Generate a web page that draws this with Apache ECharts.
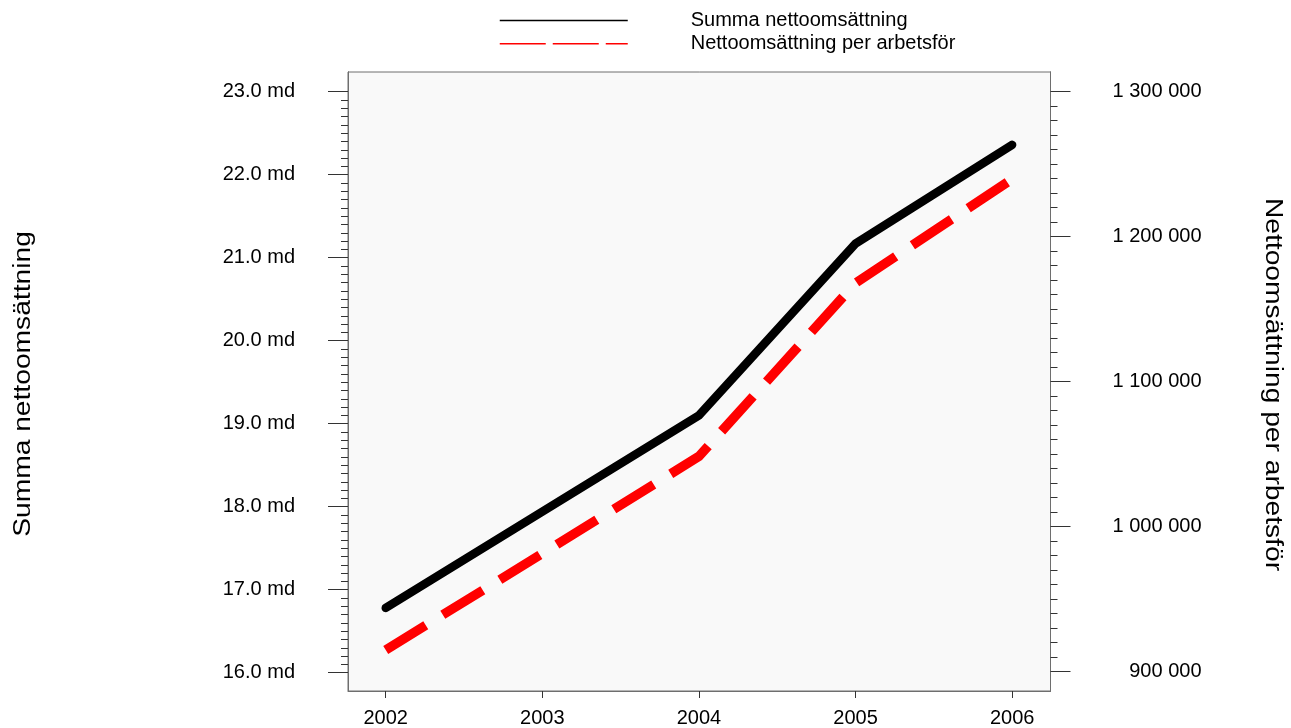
<!DOCTYPE html>
<html>
<head>
<meta charset="utf-8">
<script src="https://cdn.jsdelivr.net/npm/echarts@6/dist/echarts.min.js"></script>
<style>
html,body{margin:0;padding:0;background:#fff;}
#chart{width:1291px;height:728px;}
</style>
</head>
<body>
<div id="chart"></div>
<script>
// ---- data ----
var years = [2002, 2003, 2004, 2005, 2006];
var summaNetto = [16.78, 17.94, 19.10, 21.17, 22.36];          // left axis (md)
var nettoPerArbetsfor = [915000, 981500, 1048500, 1168000, 1239800]; // right axis
var leftTicks = [16, 17, 18, 19, 20, 21, 22, 23];
var rightTicks = [900000, 1000000, 1100000, 1200000, 1300000];
var seriesNames = ['Summa nettoomsättning', 'Nettoomsättning per arbetsför'];
var leftTitle = 'Summa nettoomsättning';
var rightTitle = 'Nettoomsättning per arbetsför';

function minorTicks(major, parts) {
  var out = [];
  for (var i = 0; i < major.length - 1; i++) {
    var step = (major[i + 1] - major[i]) / parts;
    for (var k = 1; k < parts; k++) out.push(major[i] + step * k);
  }
  return out;
}
function spaced(v) {
  return String(Math.round(v)).replace(/\B(?=(\d{3})+(?!\d))/g, ' ');
}

var FONT = "'Liberation Sans', Arial, sans-serif";
var FRAME = '#6e6e6e';
var TICK = '#333';

var chart = echarts.init(document.getElementById('chart'), null, {renderer: 'canvas'});

function yAx(pos, min, max, ticks, len, labels, fmt, margin, align) {
  return {
    type: 'value', position: pos, min: min, max: max, offset: 0,
    axisLine: {show: true, lineStyle: {color: FRAME, width: 1}},
    axisTick: {show: true, customValues: ticks, length: len, lineStyle: {color: TICK, width: 1}},
    axisLabel: labels ? {show: true, customValues: ticks, formatter: fmt, margin: margin,
      fontSize: 20, color: '#000', fontFamily: FONT, align: align, padding: [3, 0, 0, 0]} : {show: false},
    splitLine: {show: false}, minorTick: {show: false}
  };
}

var option = {
  animation: false,
  backgroundColor: '#ffffff',
  textStyle: {fontFamily: FONT},
  grid: {left: 348, right: 240.5, top: 72, bottom: 37, show: true,
         backgroundColor: '#f9f9f9', borderColor: FRAME, borderWidth: 1, containLabel: false},
  legend: {
    orient: 'vertical', left: 494, top: 5.5, itemWidth: 128, itemHeight: 20, itemGap: 3.3,
    selectedMode: false,
    textStyle: {fontSize: 20, color: '#000', fontFamily: FONT, padding: [5, 0, 0, 58]},
    data: [
      {name: seriesNames[0], itemStyle: {opacity: 0}, lineStyle: {width: 1.5, type: 'solid', cap: 'butt'}},
      {name: seriesNames[1], itemStyle: {opacity: 0}, lineStyle: {width: 1.5, type: [46, 7], cap: 'butt'}}
    ]
  },
  xAxis: {
    type: 'value', min: 2001.759, max: 2006.245,
    axisLine: {show: true, lineStyle: {color: FRAME, width: 1}},
    axisTick: {show: true, customValues: years, length: 7, lineStyle: {color: TICK, width: 1}},
    axisLabel: {show: true, customValues: years, formatter: function (v) { return String(Math.round(v)); },
      margin: 17, fontSize: 20, color: '#000', fontFamily: FONT},
    splitLine: {show: false}
  },
  yAxis: [
    yAx('left', 15.78, 23.237, leftTicks, 20, true, function (v) { return v.toFixed(1) + ' md'; }, 53, 'right'),
    yAx('left', 15.78, 23.237, minorTicks(leftTicks, 10), 7, false),
    yAx('right', 886690, 1313590, rightTicks, 20, true, spaced, 151, 'right'),
    yAx('right', 886690, 1313590, minorTicks(rightTicks, 10), 7, false)
  ],
  graphic: [
    {type: 'text', x: 24, y: 384, rotation: Math.PI / 2, scaleX: 1.2, scaleY: 1,
     style: {text: leftTitle, font: '23.5px ' + FONT, fill: '#000', align: 'center', verticalAlign: 'middle'}},
    {type: 'text', x: 1272.5, y: 384.5, rotation: -Math.PI / 2, scaleX: 1.2, scaleY: 1,
     style: {text: rightTitle, font: '23.5px ' + FONT, fill: '#000', align: 'center', verticalAlign: 'middle'}}
  ],
  series: [
    {
      name: seriesNames[0], type: 'line', xAxisIndex: 0, yAxisIndex: 0,
      data: years.map(function (y, i) { return [y, summaNetto[i]]; }),
      symbol: 'none', smooth: false, color: '#000000',
      lineStyle: {color: '#000000', width: 8.5, cap: 'round', join: 'miter'},
      emphasis: {disabled: true}, z: 3
    },
    {
      name: seriesNames[1], type: 'line', xAxisIndex: 0, yAxisIndex: 2,
      data: years.map(function (y, i) { return [y, nettoPerArbetsfor[i]]; }),
      symbol: 'none', smooth: false, color: '#ff0000',
      lineStyle: {color: '#ff0000', width: 9.5, type: [47, 20], cap: 'butt', join: 'miter'},
      emphasis: {disabled: true}, z: 2
    }
  ]
};
chart.setOption(option);
</script>
</body>
</html>
